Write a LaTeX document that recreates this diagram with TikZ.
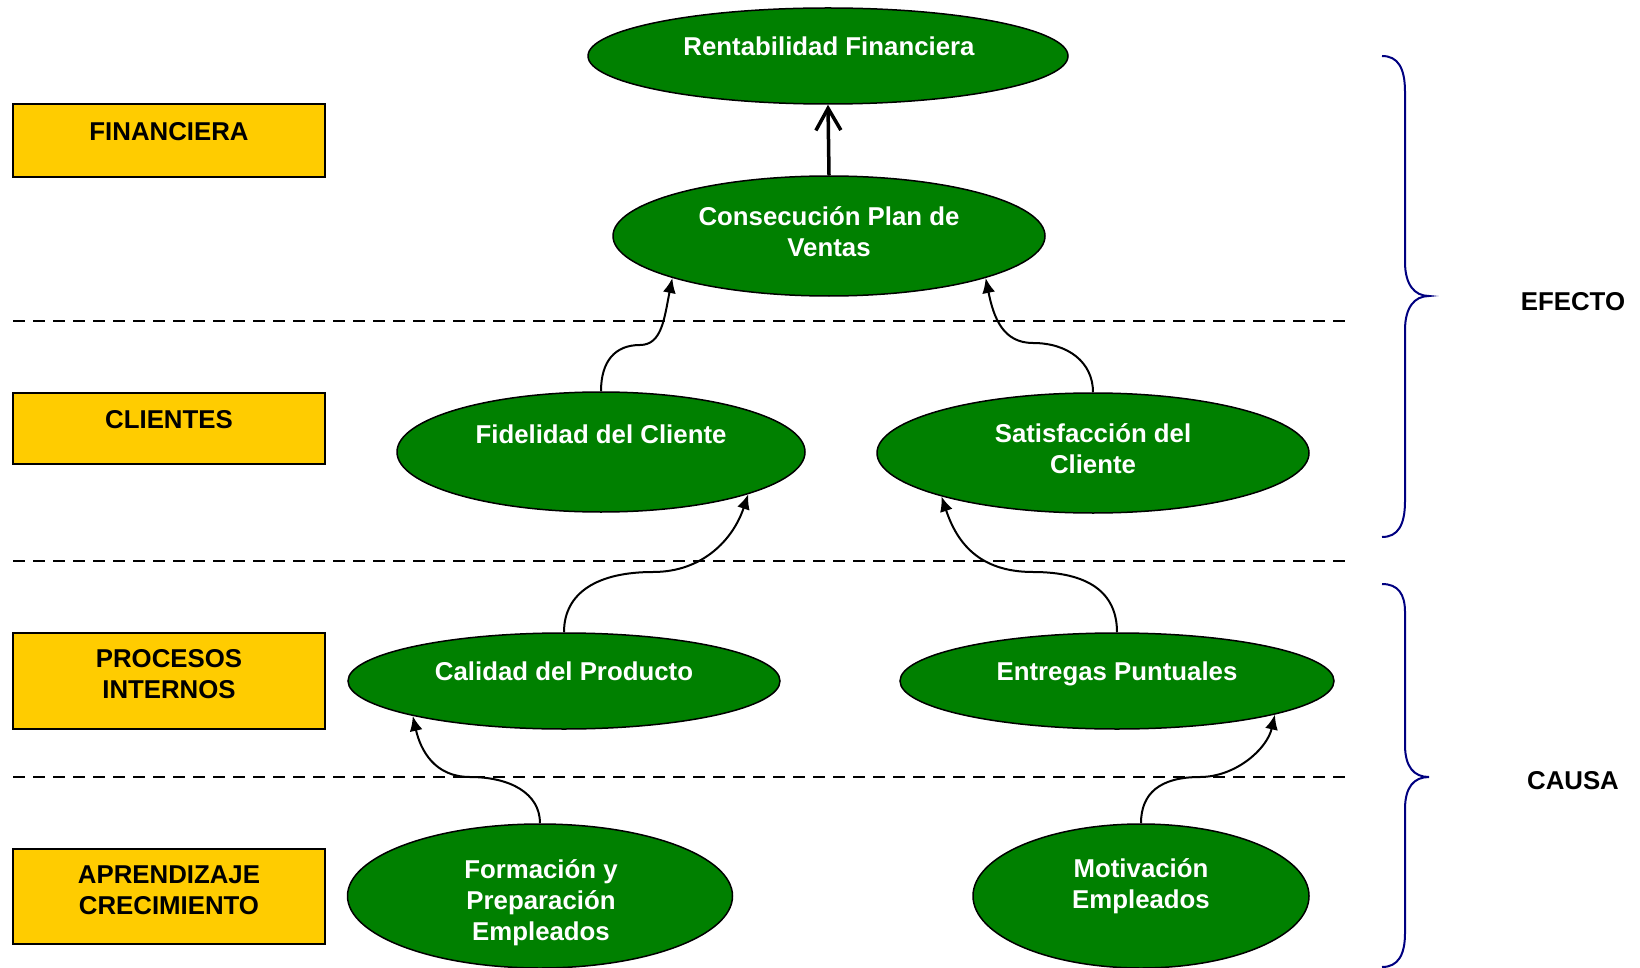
\documentclass[tikz,border=0pt]{standalone}
\usepackage{fontspec}
\setmainfont{Liberation Sans}
\usetikzlibrary{shapes.geometric,arrows.meta}
\definecolor{goalgreen}{HTML}{008000}
\definecolor{laneyellow}{HTML}{FFCC00}
\definecolor{bracenavy}{HTML}{000080}

\begin{document}
\begin{tikzpicture}[x=1pt,y=-1pt,
  goal/.style={ellipse,draw=black,line width=1.5pt,fill=goalgreen,inner sep=0pt},
  lane/.style={rectangle,draw=black,line width=1.5pt,fill=laneyellow,minimum width=312pt,inner sep=0pt},
  txt/.style={anchor=base,align=center,inner sep=0pt,font=\fontsize{25.8}{31}\selectfont\bfseries},
  link/.style={line width=2pt,-{Latex[length=15pt,width=13pt]}},
  brc/.style={draw=bracenavy,line width=2pt}]
\useasboundingbox (0,0) rectangle (1640,968);

% perspectivas
\node[lane,minimum height=73pt] (fin) at (169,140.5) {};
\node[lane,minimum height=71pt] (cli) at (169,428.5) {};
\node[lane,minimum height=96pt] (pro) at (169,681) {};
\node[lane,minimum height=95pt] (apr) at (169,896.5) {};
\node[txt] (fin-t) at (169,141) {FINANCIERA};
\node[txt] (cli-t) at (169,428) {CLIENTES};
\node[txt] (pro-t) at (169,698) {PROCESOS\\INTERNOS};
\node[txt] (apr-t) at (169,914) {APRENDIZAJE\\CRECIMIENTO};

\foreach \y in {321,561,777}
  \draw[line width=2.5pt,dash pattern=on 12pt off 8pt] (13,\y) -- (1349,\y);

% objetivos
\node[goal,minimum width=480pt,minimum height=96pt] (ren) at (828,56) {};
\node[goal,minimum width=432pt,minimum height=120pt] (con) at (829,236) {};
\node[goal,minimum width=408pt,minimum height=120pt] (fid) at (601,452) {};
\node[goal,minimum width=432pt,minimum height=120pt] (sat) at (1093,453) {};
\node[goal,minimum width=432pt,minimum height=96pt] (cal) at (564,681) {};
\node[goal,minimum width=434pt,minimum height=96pt] (ent) at (1117,681) {};
\node[goal,minimum width=385pt,minimum height=144pt] (for) at (540,896) {};
\node[goal,minimum width=336pt,minimum height=144pt] (mot) at (1141,896) {};

\node[txt,white] (ren-t) at (829,56) {Rentabilidad Financiera};
\node[txt,white] (con-t) at (829,257) {Consecución Plan de\\Ventas};
\node[txt,white] (fid-t) at (601,443) {Fidelidad del Cliente};
\node[txt,white] (sat-t) at (1093,473) {Satisfacción del\\Cliente};
\node[txt,white] (cal-t) at (564,680) {Calidad del Producto};
\node[txt,white] (ent-t) at (1117,680) {Entregas Puntuales};
\node[txt,white] (for-t) at (541,940) {Formación y\\Preparación\\Empleados};
\node[txt,white] (mot-t) at (1141,908) {Motivación\\Empleados};

% relaciones causa-efecto
\draw[line width=3.5pt,-{Straight Barb[length=22pt,width=25pt]}] (con.north) -- (ren.south);

\coordinate (m1) at (640,345);
\coordinate (m2) at (1033,343);
\coordinate (m3) at (653,572);
\coordinate (m4) at (1033,572);
\coordinate (m5) at (470,777);
\coordinate (m6) at (1200,777);
\draw[link] (fid.north) .. controls +(0,-30) and +(-25,0) .. (m1) .. controls +(22,0) and +(-8,40) .. (con.195);
\draw[link] (sat.north) .. controls +(0,-30) and +(35,0) .. (m2) .. controls +(-30,0) and +(8,40) .. (con.-15);
\draw[link] (cal.north) .. controls +(0,-40) and +(-55,0) .. (m3) .. controls +(50,0) and +(-15,45) .. (fid.-16);
\draw[link] (ent.north) .. controls +(0,-40) and +(55,0) .. (m4) .. controls +(-55,0) and +(15,45) .. (sat.196);
\draw[link] (for.north) .. controls +(0,-30) and +(40,0) .. (m5) .. controls +(-35,0) and +(8,35) .. (cal.193);
\draw[link] (mot.north) .. controls +(0,-30) and +(-40,0) .. (m6) .. controls +(35,0) and +(-8,35) .. (ent.-12.5);

% llaves
\draw[brc] (1382,56) .. controls (1398,56) and (1405,68) .. (1405,92) -- (1405,262)
  .. controls (1405,284) and (1414,296) .. (1429,296)
  .. controls (1414,296) and (1405,308) .. (1405,330) -- (1405,501)
  .. controls (1405,525) and (1398,537) .. (1382,537);
\draw[brc] (1382,584) .. controls (1398,584) and (1405,594) .. (1405,612) -- (1405,745)
  .. controls (1405,767) and (1414,777) .. (1429,777)
  .. controls (1414,777) and (1405,787) .. (1405,809) -- (1405,933)
  .. controls (1405,955) and (1398,967) .. (1382,967);
\node[txt] (efe) at (1573,310) {EFECTO};
\node[txt] (cau) at (1573,789) {CAUSA};
\end{tikzpicture}
\end{document}
